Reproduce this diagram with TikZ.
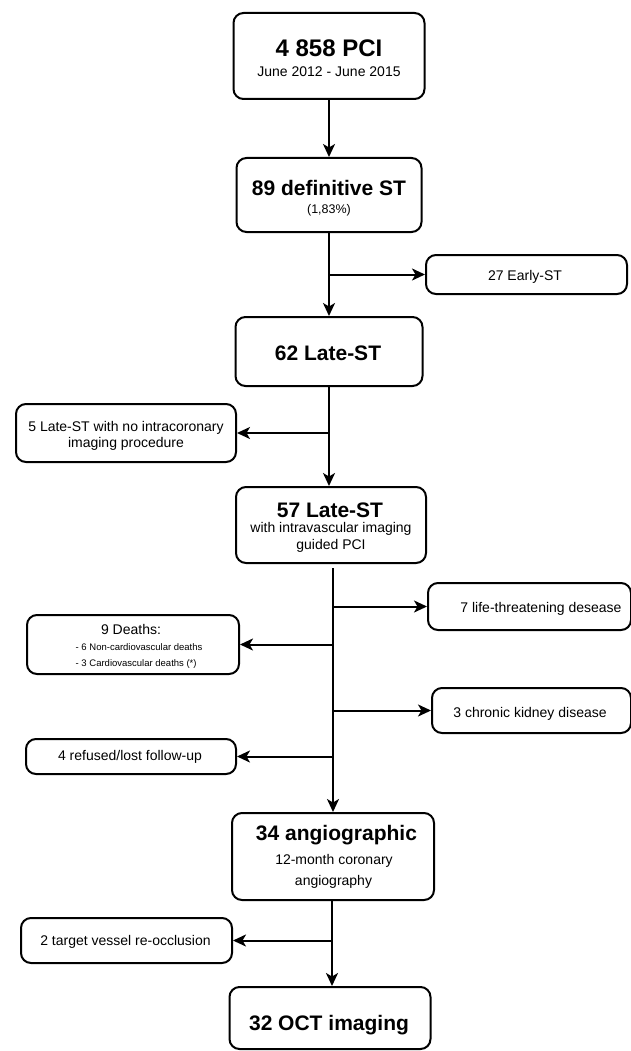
\documentclass[tikz,border=0pt]{standalone}
\usepackage{fontspec}
\setmainfont{Liberation Sans}
\usetikzlibrary{arrows.meta,calc}
\begin{document}
\begin{tikzpicture}[x=1pt,y=-1pt,
  box/.style={draw=black, line width=2pt, rounded corners=10pt, inner sep=0pt, fill=white},
  lbl/.style={anchor=base, inner sep=0pt},
  big/.style={lbl, font=\fontsize{21}{21}\selectfont\bfseries},
  norm/.style={lbl, font=\fontsize{14}{14}\selectfont},
  tiny/.style={lbl, font=\fontsize{9.5}{9.5}\selectfont},
  conn/.style={line width=2pt},
  arr/.style={conn, -{Stealth[length=13pt,width=12pt,inset=3.5pt]}}]
\useasboundingbox (0,0) rectangle (630,1051);
% boxes
\node[box, minimum width=191pt, minimum height=86pt] (b1) at (329,56) {};
\node[box, minimum width=185pt, minimum height=74pt] (b2) at (329,195) {};
\node[box, minimum width=201pt, minimum height=39pt] (early) at (526.5,274.5) {};
\node[box, minimum width=187pt, minimum height=69pt] (b3) at (329,351.5) {};
\node[box, minimum width=220pt, minimum height=58pt] (noimg) at (126,433) {};
\node[box, minimum width=190pt, minimum height=76pt] (b4) at (331,525) {};
\node[box, minimum width=203pt, minimum height=47pt] (life) at (529.5,606.5) {};
\node[box, minimum width=212pt, minimum height=59pt] (deaths) at (133,644.5) {};
\node[box, minimum width=199pt, minimum height=45pt] (kidney) at (531.5,710.5) {};
\node[box, minimum width=210pt, minimum height=35pt] (refused) at (131,756.5) {};
\node[box, minimum width=202pt, minimum height=87pt] (b5) at (333,856.5) {};
\node[box, minimum width=211pt, minimum height=45pt] (target) at (126.5,940.5) {};
\node[box, minimum width=201pt, minimum height=62pt] (b6) at (330,1018) {};
% texts
\node[lbl, font=\fontsize{24}{24}\selectfont\bfseries] (t1a) at (329,57) {4 858 PCI};
\node[norm] (t1b) at (329,77) {June 2012 - June 2015};
\node[big] (t2a) at (329,195) {89 definitive ST};
\node[lbl, font=\fontsize{12.5}{12.5}\selectfont] (t2b) at (329,213) {(1,83\%)};
\node[norm] (tearly) at (525,280) {27 Early-ST};
\node[big] (t3) at (328,360) {62 Late-ST};
\node[norm] (tnoa) at (126,431) {5 Late-ST with no intracoronary};
\node[norm] (tnob) at (126,447) {imaging procedure};
\node[big] (t4a) at (330,517) {57 Late-ST};
\node[norm] (t4b) at (331,532) {with intravascular imaging};
\node[norm] (t4c) at (331,549) {guided PCI};
\node[norm] (tlife) at (541,612) {7 life-threatening desease};
\node[norm] (tda) at (131,634) {9 Deaths:};
\node[tiny, anchor=base west] (tdb) at (75.5,650) {- 6 Non-cardiovascular deaths};
\node[tiny, anchor=base west] (tdc) at (75.5,666) {- 3 Cardiovascular deaths (*)};
\node[norm] (tkid) at (530,717) {3 chronic kidney disease};
\node[norm] (tref) at (130,760) {4 refused/lost follow-up};
\node[big] (t5a) at (336.5,840) {34 angiographic};
\node[norm] (t5b) at (334,864) {12-month coronary};
\node[norm] (t5c) at (333.5,885) {angiography};
\node[norm] (ttar) at (125.5,945) {2 target vessel re-occlusion};
\node[big] (t6) at (329,1030) {32 OCT imaging};
% connectors
\draw[arr] (b1.south) -- (b2.north);
\draw[arr] (b2.south) -- (b3.north);
\draw[arr] (b2.south |- early.west) -- (early.west);
\draw[arr] (b3.south) -- (b3.south |- b4.north);
\draw[arr] (b3.south |- noimg.east) -- (noimg.east);
\coordinate (s4) at (333,568);
\draw[arr] (s4) -- (b5.north);
\draw[arr] (s4 |- life.west) -- (life.west);
\draw[arr] (s4 |- deaths.east) -- (deaths.east);
\draw[arr] (s4 |- kidney.west) -- (kidney.west);
\draw[arr] (s4 |- refused.east) -- (refused.east);
\coordinate (s5) at (332,900);
\draw[arr] (s5) -- (s5 |- b6.north);
\draw[arr] (s5 |- target.east) -- (target.east);
\end{tikzpicture}
\end{document}
